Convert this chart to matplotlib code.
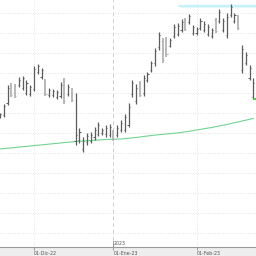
import matplotlib
matplotlib.use("Agg")
import matplotlib.pyplot as plt
from matplotlib.patches import Rectangle

# ---- data (price units are arbitrary; no y labels in the reference) ----
highs = [140,149,168,170,169,176,177,173,168,187,
         189,185,174,165,164,163,171,175,169,165,
         160,125,116,120,121,126,131,125,128,129,
         123,128,133,139,150,173,169,172,178,181,
         192,205,221,215,216,215,229,230,234,235,
         239,228,226,235,232,229,225,235,244,235,
         240,249,240,238,208,201,188,175]
lows = [135,136,148,156,155,166,163,158,157,162,
        179,174,157,156,156,154,155,149,157,151,
        108,110,101,108,110,113,117,118,116,116,
        112,116,121,121,126,156,149,156,157,171,
        181,187,203,190,196,206,215,217,221,222,
        229,218,218,223,221,217,215,220,230,221,
        215,236,230,223,180,188,173,154]
opens = [136,138,150,168,167,168,165,160,159,164,
         181,176,172,158,158,156,157,172,159,163,
         112,113,104,111,112,116,119,120,119,118,
         121,118,123,123,128,159,152,170,160,173,
         183,190,206,212,213,207,217,219,223,233,
         231,220,220,225,223,219,217,233,232,223,
         218,238,232,236,183,190,175,156]
closes = [139,147,165,158,157,173,175,170,166,184,
          187,183,159,163,162,161,168,152,166,153,
          118,121,112,117,118,123,128,123,125,126,
          114,125,130,136,146,170,165,158,175,179,
          190,202,218,193,199,213,226,227,231,224,
          237,226,224,232,229,226,223,222,241,232,
          236,246,238,225,204,198,185,170]
ma = [104.0,104.4,104.8,105.1,105.5,105.9,106.3,106.6,107.0,107.4,
      107.8,108.1,108.5,108.9,109.3,109.6,110.0,110.4,110.8,111.1,
      111.5,111.8,112.0,112.3,112.5,112.8,113.0,113.3,113.5,113.7,
      113.8,113.9,114.0,114.4,114.8,115.1,115.5,116.0,116.5,117.0,
      117.5,117.9,118.3,118.6,119.0,119.4,119.8,120.1,120.5,121.1,
      121.7,122.4,123.0,123.6,124.3,124.9,125.5,126.3,127.0,127.8,
      128.5,129.4,130.3,131.1,132.0,132.8,133.7,134.5]
tick_pos = [9, 30, 52]
tick_labels = ["01-Dic-22", "01-Ene-23", "01-Feb-23"]
year_label = "2023"
year_pos = 30
band_start, band_low, band_high = 46.8, 246.0, 248.7
marker_level = 154
grid_levels = [20, 40, 60, 80, 100, 120, 140, 160, 180, 200, 220, 240]

# ---- figure ----
fig = plt.figure(figsize=(2.56, 2.56), dpi=100)
fig.patch.set_facecolor("white")
fig.add_artist(Rectangle((0, 0), 1, 9/256, transform=fig.transFigure,
                         facecolor="#eeeeee", edgecolor="none", zorder=0))
ax = fig.add_axes([0, 9/256, 1, 247/256])
ax.set_facecolor("white")

n = len(highs)
xs = list(range(n))
ax.set_xlim(0, 67.7)
ax.set_ylim(6, 253)

for g in grid_levels:
    ax.axhline(g, color="#d9d9d9", lw=0.6, ls=(0, (1, 2)), zorder=0)
for p in tick_pos:
    if p == year_pos:
        ax.axvline(p, color="#cfcfcf", lw=0.7, ls=(0, (4, 3)), zorder=0)
    else:
        ax.axvline(p, color="#d9d9d9", lw=0.6, ls=(0, (1, 2)), zorder=0)

# cyan band
ax.fill_between([band_start, band_start + 0.8, 67.7], [band_low + 1.2, band_low, band_low],
                [band_high - 1.0, band_high, band_high], color="#c6f3f8", lw=0, zorder=1)

# moving average
ax.plot(xs, ma, color="#72d493", lw=0.8, zorder=2)

# OHLC bars
for i in xs:
    down = closes[i] < opens[i]
    c = "#b3b3b3" if down else "#5c5c5c"
    lw = 1.3 if down else 0.9
    ax.vlines(i, lows[i], highs[i], color=c, lw=lw, zorder=3)
    ax.hlines(opens[i], i - 0.3, i, color=c, lw=0.7, zorder=3)
    ax.hlines(closes[i], i, i + 0.3, color=c, lw=0.7, zorder=3)

# last level marker
ax.hlines(marker_level, n - 1, 67.7, color="#2ecc2e", lw=1.2, zorder=4)

# axes styling
for s in ["top", "left", "right"]:
    ax.spines[s].set_visible(False)
ax.spines["bottom"].set_color("#9a9a9a")
ax.spines["bottom"].set_linewidth(0.8)
ax.set_yticks([])
ax.set_xticks(tick_pos)
ax.set_xticklabels(tick_labels, fontsize=3.4, color="#555555", ha="left")
ax.tick_params(axis="x", direction="out", length=2.2, width=0.5, color="#777777", pad=0.6)

# year marker
ax.axvline(year_pos, ymin=0, ymax=6/247, color="#777777", lw=0.5, zorder=5)
ax.text(year_pos + 0.15, 0.004, year_label, transform=ax.get_xaxis_transform(),
        fontsize=3.4, color="#555555", ha="left", va="bottom")

fig.savefig("out.png", dpi=100)
